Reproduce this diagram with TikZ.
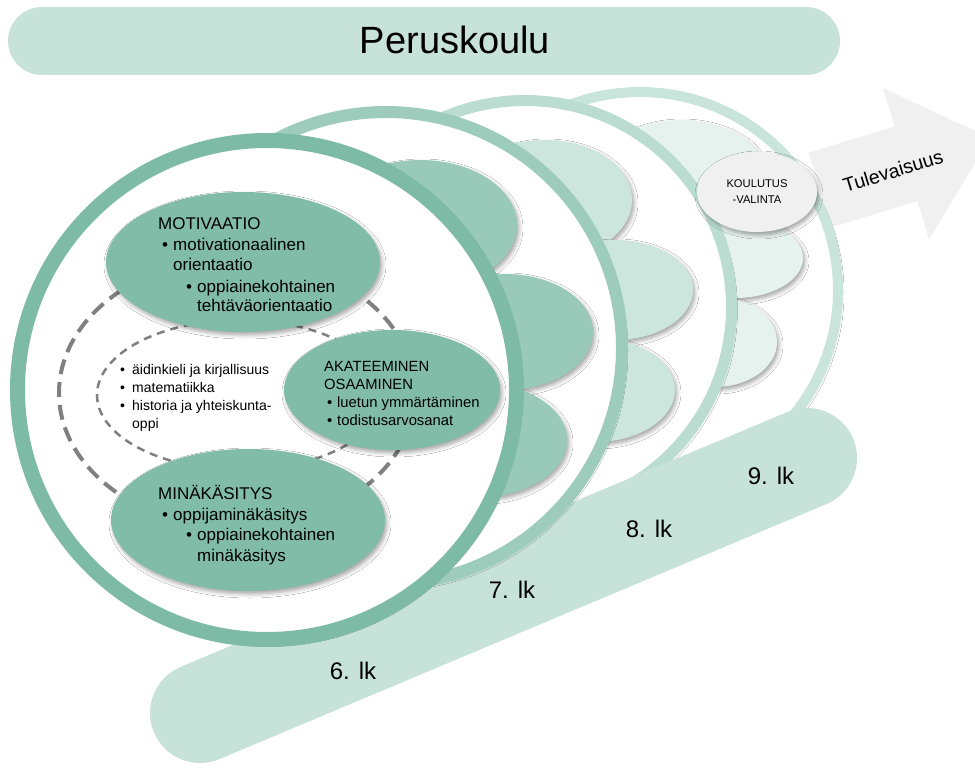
\documentclass[tikz,border=0pt]{standalone}
\usepackage{fontspec}
\setmainfont{Liberation Sans}
\usetikzlibrary{shapes.geometric,shadows.blur}
\definecolor{cmain}{HTML}{80BCA8}
\definecolor{cring1}{HTML}{7EBBA7}
\definecolor{cring2}{HTML}{9DCCBC}
\definecolor{cpet1}{HTML}{99CAB9}
\definecolor{cring3}{HTML}{BBDCD1}
\definecolor{cpet2}{HTML}{CCE5DD}
\definecolor{cring4}{HTML}{C9E4DB}
\definecolor{cpet3}{HTML}{E6F2EE}
\definecolor{cband}{HTML}{C7E2D9}
\definecolor{cgray}{HTML}{F0F0F0}
\definecolor{cdash}{HTML}{808080}
\newcommand\bu[1]{\makebox[#1pt][l]{\textbullet}}
\tikzset{
  shad/.style={blur shadow={shadow xshift=2pt, shadow yshift=-3pt, shadow blur radius=4pt, shadow opacity=35}},
  oval/.style={ellipse, inner sep=0pt, shad},
  ringc/.style={circle, inner sep=0pt, fill=white, shad},
  ta/.style={font=\fontsize{17}{20.5}\selectfont, inner sep=0pt, anchor=base west},
  tb/.style={font=\fontsize{14.8}{18}\selectfont, inner sep=0pt, anchor=base west},
  tc/.style={font=\fontsize{14}{18}\selectfont, inner sep=0pt, anchor=base west},
  grade/.style={font=\fontsize{24}{26}\selectfont, inner sep=0pt}
}
\begin{document}
\begin{tikzpicture}[x=1pt,y=-1pt]
\path[use as bounding box, fill=white] (0,0) rectangle (975,770);
% title
\node[fill=cband, rounded corners=34pt, minimum width=832pt, minimum height=68pt, inner sep=0pt] (titlebar) at (424,41) {};
\node[font=\fontsize{38}{40}\selectfont, inner sep=0pt] (title) at (455,40) {Peruskoulu};
% arrow
\begin{scope}[shift={(820,190)}, rotate=17]
\fill[cgray] (0,-39) -- (90,-39) -- (90,-79) -- (178,0) -- (90,79) -- (90,39) -- (0,39) -- cycle;
\end{scope}
\node[font=\fontsize{19.5}{22}\selectfont, rotate=17, inner sep=0pt] (future) at (893,171) {Tulevaisuus};
% circle 4 and its petals
\node[ringc, draw=cring4, line width=10pt, minimum size=396pt] (c4) at (640,290) {};
\node[oval, fill=cpet3, minimum width=170pt, minimum height=110pt] (p3a) at (680,175) {};
\node[oval, fill=cpet3, minimum width=136pt, minimum height=80pt] (p3b) at (735,258) {};
\node[oval, fill=cpet3, minimum width=124pt, minimum height=90pt] (p3c) at (715,342) {};
% circle 3 and its petals
\node[ringc, draw=cring3, line width=11pt, minimum size=413pt] (c3) at (525,307) {};
\node[oval, fill=cpet2, minimum width=174pt, minimum height=120pt] (p2a) at (545,200) {};
\node[oval, fill=cpet2, minimum width=156pt, minimum height=100pt] (p2b) at (615,290) {};
\node[oval, fill=cpet2, minimum width=160pt, minimum height=104pt] (p2c) at (595,390) {};
% band
\coordinate (bandL) at (200,713);
\coordinate (bandR) at (807,458);
\draw[cband, line width=100pt, line cap=round] (bandL) -- (bandR);
% circle 2 and its petals
\node[ringc, draw=cring2, line width=12pt, minimum size=472pt] (c2) at (386,348) {};
\node[oval, fill=cpet1, minimum width=194pt, minimum height=130pt] (p1a) at (420,225) {};
\node[oval, fill=cpet1, minimum width=176pt, minimum height=116pt] (p1b) at (505,332) {};
\node[oval, fill=cpet1, minimum width=184pt, minimum height=116pt] (p1c) at (475,440) {};
% circle 1
\node[ringc, draw=cring1, line width=15pt, minimum size=499pt] (c1) at (267,390) {};
% dashed ellipses
\node[ellipse, draw=cdash, line width=4pt, dash pattern=on 15pt off 8pt, minimum width=356pt, minimum height=270pt, inner sep=0pt] (dashout) at (237,393) {};
\node[ellipse, draw=cdash, line width=2.5pt, dash pattern=on 8pt off 6pt, minimum width=286pt, minimum height=150pt, inner sep=0pt] (dashin) at (240,395) {};
% main ellipses
\node[oval, fill=cmain, minimum width=274pt, minimum height=140pt] (mot) at (243,262) {};
\node[oval, fill=cmain, minimum width=216pt, minimum height=120pt] (aka) at (392,390) {};
\node[oval, fill=cmain, minimum width=274pt, minimum height=142pt] (min) at (248,520) {};
% texts
\node[ta] (mo1) at (158,230) {MOTIVAATIO};
\node[ta] (mo2) at (162,251) {\bu{11}motivationaalinen};
\node[ta] (mo3) at (173,271) {orientaatio};
\node[ta] (mo4) at (186,292) {\bu{11}oppiainekohtainen};
\node[ta] (mo5) at (197,312) {tehtäväorientaatio};
\node[tb] (ak1) at (324,371) {AKATEEMINEN};
\node[tb] (ak2) at (324,389) {OSAAMINEN};
\node[tb] (ak3) at (327,407) {\bu{10}luetun ymmärtäminen};
\node[tb] (ak4) at (327,425) {\bu{10}todistusarvosanat};
\node[tc] (li1) at (120,374.5) {\bu{12}äidinkieli ja kirjallisuus};
\node[tc] (li2) at (120,392.5) {\bu{12}matematiikka};
\node[tc] (li3) at (120,410.5) {\bu{12}historia ja yhteiskunta-};
\node[tc] (li4) at (132,428.5) {oppi};
\node[ta] (mi1) at (158,499) {MINÄKÄSITYS};
\node[ta] (mi2) at (162,520) {\bu{11}oppijaminäkäsitys};
\node[ta] (mi3) at (186,540) {\bu{11}oppiainekohtainen};
\node[ta] (mi4) at (197,561) {minäkäsitys};
% koulutusvalinta
\node[oval, fill=cgray, minimum width=120pt, minimum height=80pt] (kou) at (757,192) {};
\node[font=\fontsize{11.2}{16}\selectfont, align=center, inner sep=0pt] (kouT) at (757,192) {KOULUTUS\\-VALINTA};
% grade labels
\node[grade] (g6) at (353,671) {6. lk};
\node[grade] (g7) at (512,590) {7. lk};
\node[grade] (g8) at (649,529) {8. lk};
\node[grade] (g9) at (771,476) {9. lk};
\end{tikzpicture}
\end{document}
